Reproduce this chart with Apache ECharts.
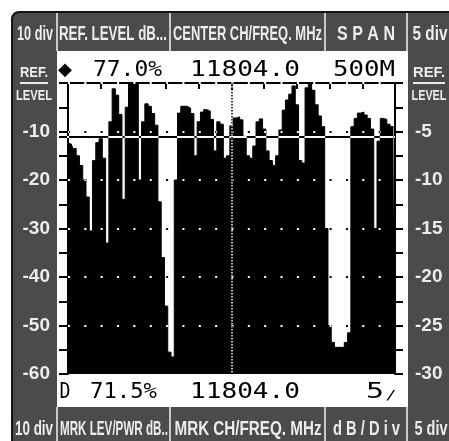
<!DOCTYPE html>
<html><head><meta charset="utf-8">
<script src="https://cdn.jsdelivr.net/npm/echarts@6/dist/echarts.min.js"></script>
<style>html,body{margin:0;padding:0;background:#fff}#c{width:449px;height:441px}</style>
</head><body><div id="c"></div>
<script>
// ---- data ----
const startMHz = 11554;
const stepMHz = 5;
const levels = [
 -12.4,-12.6,-13.5,-15.0,-17.0,-20.0,-23.5,-30.5,-16.0,-12.3,
 -11.5,-15.5,-33.0,-8.0,-1.2,-2.5,-6.5,-24.0,-5.0,0,
 0,0,-20.0,-8.0,-4.3,-4.8,-6.3,-8.7,-24.5,-36.0,
 -46.0,-55.5,-56.5,-20.0,-6.2,-4.8,-4.8,-5.2,-6.3,-15.0,
 -8.0,-6.0,-5.5,-5.8,-7.5,-14.0,-8.0,-8.5,-15.5,-15.0,
 -8.8,-7.2,-7.0,-7.6,-11.0,-15.0,-15.5,-13.0,-8.0,-7.4,
 -9.5,-14.0,-16.0,-17.0,-15.0,-9.7,-5.6,-3.5,-2.3,-0.6,
 -4.5,-16.0,-16.5,-1.0,0,-1.5,-4.5,-6.8,-9.0,-30.0,
 -50.0,-53.5,-54.5,-54.5,-54.5,-53.5,-51.5,-9.0,-7.3,-6.2,
 -6.0,-6.6,-7.3,-9.5,-30.0,-12.0,-7.3,-7.5,-8.5,-9.0,
 -9.3
];
const leftScale = {min: -60, max: 0, step: 10};
const rightScale = {min: -30, max: 0, step: 5};
const gridLevels = [0, -10, -20, -30, -40, -50];
const refLineLevel = -11.1;
const centerIndex = 50;
const headerLabels = ['10 div', 'REF. LEVEL dB...', 'CENTER CH/FREQ. MHz', 'S P A N', '5 div'];
const footerLabels = ['10 div', 'MRK LEV/PWR dB..', 'MRK CH/FREQ. MHz', 'd B / D i v', '5 div'];
const topReadout = ['◆', '77.0%', '11804.0', '500M'];
const bottomReadout = ['D', '71.5%', '11804.0', '5', '/'];
const sideTitle = ['REF.', 'LEVEL'];

const categories = levels.map((_, i) => String(startMHz + i * stepMHz));

// ---- helpers ----
const mctx = document.createElement('canvas').getContext('2d');
function fitText(t, cx, cy, w, size, family, weight, color) {
  const font = weight + ' ' + size + 'px ' + family;
  mctx.font = font;
  const m = mctx.measureText(t).width || 1;
  return {type: 'text', x: cx, y: cy, scaleX: w / m, z: 20,
    style: {text: t, fill: color, font: font, align: 'center', verticalAlign: 'middle',
            textAlign: 'center', textVerticalAlign: 'middle'}};
}
const SANS = "'Liberation Sans', Arial, sans-serif";
const MONO = "'DejaVu Sans Mono', monospace";
const LT = '#ececec';

const graphics = [];
graphics.push({type: 'rect', z: -10, shape: {x: 12, y: 12, width: 470, height: 470, r: 7},
  style: {fill: '#4b4b4b', stroke: '#151515', lineWidth: 2}});
graphics.push({type: 'rect', z: -9, shape: {x: 57, y: 51, width: 351, height: 356}, style: {fill: '#fff'}});
[57, 170, 325, 407].forEach(x => {
  graphics.push({type: 'line', z: -8, shape: {x1: x, y1: 13, x2: x, y2: 51}, style: {stroke: '#c8c8c8', lineWidth: 2}});
  graphics.push({type: 'line', z: -8, shape: {x1: x, y1: 407, x2: x, y2: 441}, style: {stroke: '#c8c8c8', lineWidth: 2}});
});
const hdrBoxes = [[35, 36], [113, 108], [247.5, 149], [366, 58], [430, 35]];
headerLabels.forEach((t, i) => graphics.push(fitText(t, hdrBoxes[i][0], 34, hdrBoxes[i][1], 21, SANS, 'bold', LT)));
const ftrBoxes = [[34, 38], [114, 108], [248, 147], [366.5, 67], [431, 33]];
footerLabels.forEach((t, i) => graphics.push(fitText(t, ftrBoxes[i][0], 429, ftrBoxes[i][1], 21, SANS, 'bold', LT)));
[[34, 28, 36], [429, 32, 35]].forEach(([cx, w1, w2]) => {
  graphics.push(fitText(sideTitle[0], cx, 73, w1, 15, SANS, 'bold', LT));
  graphics.push({type: 'line', z: 20, shape: {x1: cx - w1 / 2, y1: 83, x2: cx + w1 / 2, y2: 83}, style: {stroke: LT, lineWidth: 2}});
  graphics.push(fitText(sideTitle[1], cx, 96, w2, 15, SANS, 'bold', LT));
});
const topBoxes = [[65, 14], [127.5, 69], [245, 110], [364, 62]];
topReadout.forEach((t, i) => graphics.push(fitText(t, topBoxes[i][0], 70, topBoxes[i][1], i === 0 ? 18 : 22, i === 0 ? "'DejaVu Sans', sans-serif" : MONO, 'normal', '#000')));
const botBoxes = [[65, 11], [123.5, 67], [245, 110], [375, 18], [391, 11]];
bottomReadout.forEach((t, i) => graphics.push(fitText(t, botBoxes[i][0], i === 4 ? 396 : 392, botBoxes[i][1], i === 4 ? 13 : 22, MONO, 'normal', '#000')));

const option = {
  animation: false,
  grid: {left: 68, right: 54, top: 83, bottom: 67},
  graphic: {elements: graphics},
  xAxis: {type: 'category', data: categories, boundaryGap: false, z: 10,
    axisLine: {show: true, lineStyle: {color: '#000', width: 2}},
    axisTick: {show: true, interval: 9, length: 6, lineStyle: {color: '#000', width: 2}},
    axisLabel: {show: false}, splitLine: {show: false}},
  yAxis: [
    {type: 'value', min: leftScale.min, max: leftScale.max, interval: leftScale.step, position: 'left',
      axisLine: {show: true, lineStyle: {color: '#000', width: 2}},
      axisTick: {show: true, length: 9, lineStyle: {color: '#000', width: 2}},
      minorTick: {show: true, splitNumber: 2, length: 9, lineStyle: {color: '#000', width: 2}},
      axisLabel: {color: LT, fontSize: 19, fontWeight: 'bold', fontFamily: SANS, margin: 18,
        formatter: v => v === 0 ? '' : String(v)},
      splitLine: {show: false}},
    {type: 'value', min: rightScale.min, max: rightScale.max, interval: rightScale.step, position: 'right',
      axisLine: {show: true, lineStyle: {color: '#000', width: 2}},
      axisTick: {show: true, length: 8, lineStyle: {color: '#000', width: 2}},
      minorTick: {show: true, splitNumber: 2, length: 8, lineStyle: {color: '#000', width: 2}},
      axisLabel: {color: LT, fontSize: 19, fontWeight: 'bold', fontFamily: SANS, margin: 20,
        formatter: v => v === 0 ? '' : String(v)},
      splitLine: {show: false}}
  ],
  series: [
    {type: 'line', data: levels, yAxisIndex: 0, step: 'middle', symbol: 'none', z: 2,
      lineStyle: {color: '#000', width: 1}, areaStyle: {color: '#000', opacity: 1, origin: 'start'}}
  ]
};
const chart = echarts.init(document.getElementById('c'));
chart.setOption(option);

// XOR-style overlays (inverted over the trace) placed through the chart's own scales
const px = (i, v) => chart.convertToPixel({xAxisIndex: 0, yAxisIndex: 0}, [i, v]);
const xL = px(0, 0)[0], xR = px(levels.length - 1, 0)[0];
const yTop = px(0, leftScale.max)[1], yBot = px(0, leftScale.min)[1];
const over = [];
gridLevels.forEach(v => {
  const y = Math.round(px(0, v)[1]);
  over.push({type: 'line', z: 30, shape: {x1: xL, y1: y, x2: xR, y2: y},
    style: {stroke: '#fff', lineWidth: 2, lineDash: [2, 14.35], blend: 'difference'}});
});
const xc = Math.round(px(centerIndex, 0)[0]);
over.push({type: 'line', z: 30, shape: {x1: xc, y1: yTop, x2: xc, y2: yBot - 1},
  style: {stroke: '#fff', lineWidth: 1.5, lineDash: [1.5, 1.5], blend: 'difference'}});
const yr = Math.round(px(0, refLineLevel)[1]);
over.push({type: 'line', z: 30, shape: {x1: xL - 9, y1: yr, x2: xR, y2: yr},
  style: {stroke: '#fff', lineWidth: 2, blend: 'difference'}});
chart.setOption({graphic: {elements: graphics.concat(over)}});
</script></body></html>
